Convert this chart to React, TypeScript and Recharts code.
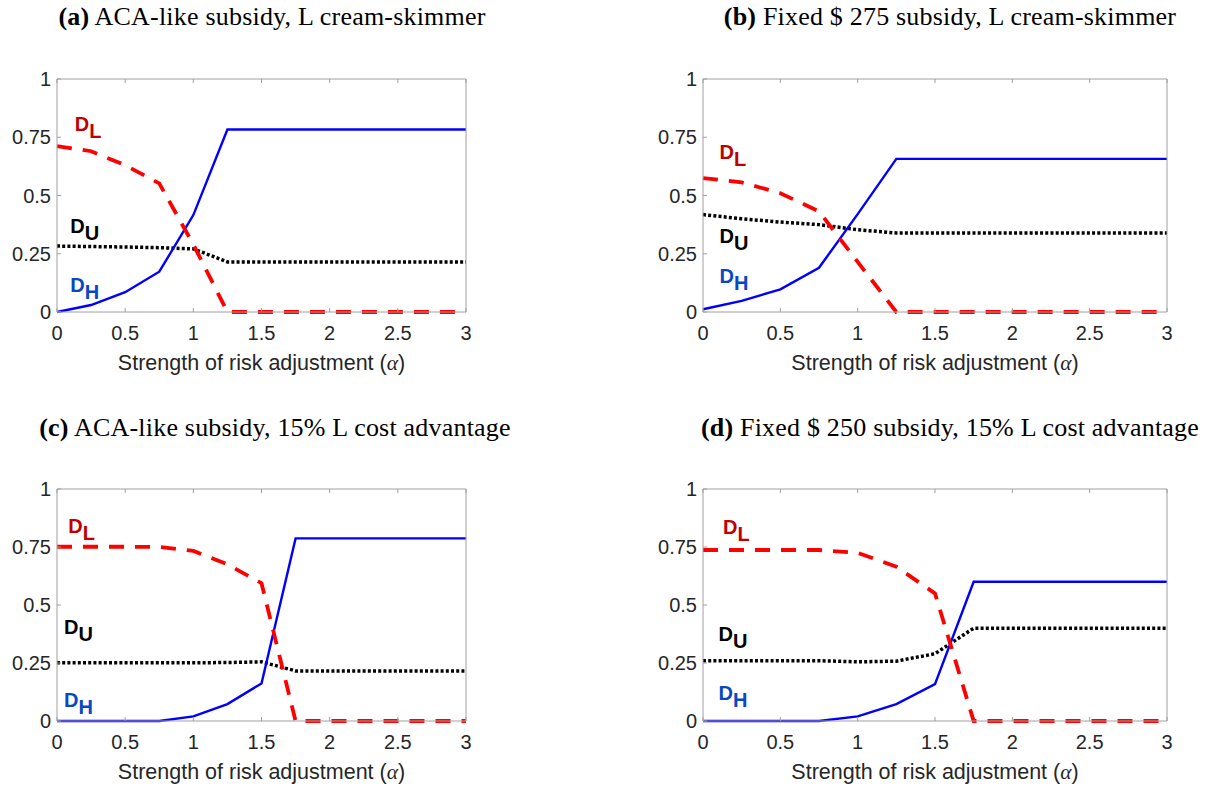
import React from "react";
import { LineChart, Line, XAxis, YAxis, ReferenceDot } from "recharts";

// ---------- data ----------
const alpha = [0, 0.25, 0.5, 0.75, 1, 1.25, 1.5, 1.75, 2, 2.25, 2.5, 2.75, 3];
const xTicks = [0, 0.5, 1, 1.5, 2, 2.5, 3];
const yTicks = [0, 0.25, 0.5, 0.75, 1];

const aDH = [0, 0.03, 0.085, 0.173, 0.416, 0.783, 0.783, 0.783, 0.783, 0.783, 0.783, 0.783, 0.783];
const aDL = [0.712, 0.69, 0.63, 0.552, 0.29, 0, 0, 0, 0, 0, 0, 0, 0];
const aDU = [0.283, 0.281, 0.279, 0.276, 0.271, 0.215, 0.215, 0.215, 0.215, 0.215, 0.215, 0.215, 0.215];

const bDH = [0.012, 0.048, 0.097, 0.19, 0.42, 0.657, 0.657, 0.657, 0.657, 0.657, 0.657, 0.657, 0.657];
const bDL = [0.575, 0.556, 0.51, 0.432, 0.215, 0, 0, 0, 0, 0, 0, 0, 0];
const bDU = [0.418, 0.4, 0.386, 0.375, 0.353, 0.339, 0.339, 0.339, 0.339, 0.339, 0.339, 0.339, 0.339];

const cDH = [0, 0, 0, 0, 0.02, 0.073, 0.162, 0.787, 0.787, 0.787, 0.787, 0.787, 0.787];
const cDL = [0.751, 0.751, 0.751, 0.75, 0.733, 0.675, 0.594, 0, 0, 0, 0, 0, 0];
const cDU = [0.251, 0.251, 0.251, 0.251, 0.251, 0.252, 0.255, 0.216, 0.216, 0.216, 0.216, 0.216, 0.216];

const dDH = [0, 0, 0, 0, 0.02, 0.073, 0.159, 0.6, 0.6, 0.6, 0.6, 0.6, 0.6];
const dDL = [0.737, 0.737, 0.737, 0.737, 0.725, 0.665, 0.55, 0, 0, 0, 0, 0, 0];
const dDU = [0.26, 0.26, 0.26, 0.26, 0.255, 0.258, 0.29, 0.4, 0.4, 0.4, 0.4, 0.4, 0.4];

const titlesBold = ["(a)", "(b)", "(c)", "(d)"];
const titlesRest = [
  "ACA-like subsidy, L cream-skimmer",
  "Fixed $ 275 subsidy, L cream-skimmer",
  "ACA-like subsidy, 15% L cost advantage",
  "Fixed $ 250 subsidy, 15% L cost advantage",
];
const xAxisLabel = "Strength of risk adjustment (";

// label anchors (data coordinates) for D_L, D_U, D_H per panel
const labelL = [[0.13, 0.777], [0.107, 0.657], [0.082, 0.81], [0.129, 0.806]];
const labelU = [[0.097, 0.339], [0.107, 0.296], [0.052, 0.375], [0.1, 0.345]];
const labelH = [[0.097, 0.086], [0.107, 0.124], [0.052, 0.06], [0.1, 0.09]];

const build = (dh: number[], dl: number[], du: number[]) =>
  alpha.map((a, i) => ({ a, dh: dh[i], dl: dl[i], du: du[i] }));

const datasets = [build(aDH, aDL, aDU), build(bDH, bDL, bDU), build(cDH, cDL, cDU), build(dDH, dDL, dDU)];

// ---------- layout ----------
const layout = [
  { left: 57, top: 79, w: 409, h: 233, tx: 272, ty: 25 },
  { left: 703, top: 79, w: 464, h: 233, tx: 950, ty: 25 },
  { left: 57, top: 489, w: 409, h: 232, tx: 275, ty: 436 },
  { left: 703, top: 489, w: 464, h: 232, tx: 950, ty: 436 },
];

const SANS = "'Liberation Sans', Arial, sans-serif";
const SERIF = "'Liberation Serif', 'Times New Roman', serif";
const AXIS = "#a0a0a0";
const TXT = "#262626";
const TICK = 4;

const fmt = (v: number) => String(v);

const BottomTick = (p: any) => (
  <g>
    <line x1={p.x} y1={p.y} x2={p.x} y2={p.y - TICK} stroke={AXIS} strokeWidth={1} />
    <text x={p.x} y={p.y + 28} textAnchor="middle" fill={TXT} fontSize={20} fontFamily={SANS}>
      {fmt(p.payload.value)}
    </text>
  </g>
);
const TopTick = (p: any) => (
  <line x1={p.x} y1={p.y} x2={p.x} y2={p.y + TICK} stroke={AXIS} strokeWidth={1} />
);
const LeftTick = (p: any) => (
  <g>
    <line x1={p.x} y1={p.y} x2={p.x + TICK} y2={p.y} stroke={AXIS} strokeWidth={1} />
    <text x={p.x - 6} y={p.y + 7} textAnchor="end" fill={TXT} fontSize={20} fontFamily={SANS}>
      {fmt(p.payload.value)}
    </text>
  </g>
);
const RightTick = (p: any) => (
  <line x1={p.x} y1={p.y} x2={p.x - TICK} y2={p.y} stroke={AXIS} strokeWidth={1} />
);

const makeD = (sub: string, color: string) => (props: any) => {
  const vb = props.viewBox || {};
  return (
    <text x={vb.x} y={vb.y} fill={color} fontSize={20} fontWeight="bold" fontFamily={SANS}>
      D
      <tspan dy={7}>{sub}</tspan>
    </text>
  );
};

const XLabel = (props: any) => {
  const vb = props.viewBox || {};
  return (
    <text x={vb.x + vb.width / 2} y={vb.y + 58} textAnchor="middle" fill={TXT} fontSize={21.5} fontFamily={SANS}>
      {xAxisLabel}
      <tspan fontFamily={SERIF} fontStyle="italic">α</tspan>)
    </text>
  );
};

const YW = 60;
const MT = 19;

function Panel({ idx }: { idx: number }) {
  const L = layout[idx];
  const data = datasets[idx];
  const W = L.w + YW + 12;
  const H = L.h + 20 + 75;
  return (
    <div style={{ position: "absolute", left: L.left - YW, top: L.top - 20, width: W, height: H }}>
      <LineChart width={W} height={H} data={data} margin={{ top: MT, right: 11, bottom: 15, left: 0 }}>
        <XAxis
          dataKey="a"
          type="number"
          domain={[0, 3]}
          ticks={xTicks}
          height={60}
          tickSize={0}
          tickMargin={0}
          tickLine={false}
          axisLine={{ stroke: AXIS }}
          tick={<BottomTick />}
          label={{ content: <XLabel /> } as any}
          interval={0}
        />
        <XAxis
          xAxisId="top"
          orientation="top"
          dataKey="a"
          type="number"
          domain={[0, 3]}
          ticks={xTicks}
          height={1}
          tickSize={0}
          tickMargin={0}
          tickLine={false}
          axisLine={{ stroke: AXIS }}
          tick={<TopTick />}
          interval={0}
        />
        <YAxis
          type="number"
          domain={[0, 1]}
          ticks={yTicks}
          width={YW}
          tickSize={0}
          tickMargin={0}
          tickLine={false}
          axisLine={{ stroke: AXIS }}
          tick={<LeftTick />}
          interval={0}
        />
        <YAxis
          yAxisId="right"
          orientation="right"
          type="number"
          domain={[0, 1]}
          ticks={yTicks}
          width={1}
          tickSize={0}
          tickMargin={0}
          tickLine={false}
          axisLine={{ stroke: AXIS }}
          tick={<RightTick />}
          interval={0}
        />
        <Line type="linear" dataKey="du" stroke="#000000" strokeWidth={3.5} strokeDasharray="3 2.2" dot={false} isAnimationActive={false} />
        <Line type="linear" dataKey="dh" stroke="#0000ff" strokeWidth={2.4} dot={false} isAnimationActive={false} />
        <Line type="linear" dataKey="dl" stroke="#ff0000" strokeWidth={3.8} strokeDasharray="15 11" dot={false} isAnimationActive={false} />
        <ReferenceDot x={labelL[idx][0]} y={labelL[idx][1]} r={0} fill="none" stroke="none" label={{ content: makeD("L", "#c00000") } as any} />
        <ReferenceDot x={labelU[idx][0]} y={labelU[idx][1]} r={0} fill="none" stroke="none" label={{ content: makeD("U", "#000000") } as any} />
        <ReferenceDot x={labelH[idx][0]} y={labelH[idx][1]} r={0} fill="none" stroke="none" label={{ content: makeD("H", "#0a47c2") } as any} />
      </LineChart>
    </div>
  );
}

export default function App() {
  return (
    <div style={{ position: "absolute", left: 0, top: 0, width: 1219, height: 790, background: "#fff" }}>
      <svg width={1219} height={790} style={{ position: "absolute", left: 0, top: 0 }}>
        {layout.map((L, i) => (
          <text key={i} x={L.tx} y={L.ty} textAnchor="middle" fontFamily={SERIF} fontSize={26} fill="#000" letterSpacing={0.2}>
            <tspan fontWeight="bold">{titlesBold[i]}</tspan> {titlesRest[i]}
          </text>
        ))}
      </svg>
      {[0, 1, 2, 3].map((i) => (
        <Panel key={i} idx={i} />
      ))}
    </div>
  );
}
